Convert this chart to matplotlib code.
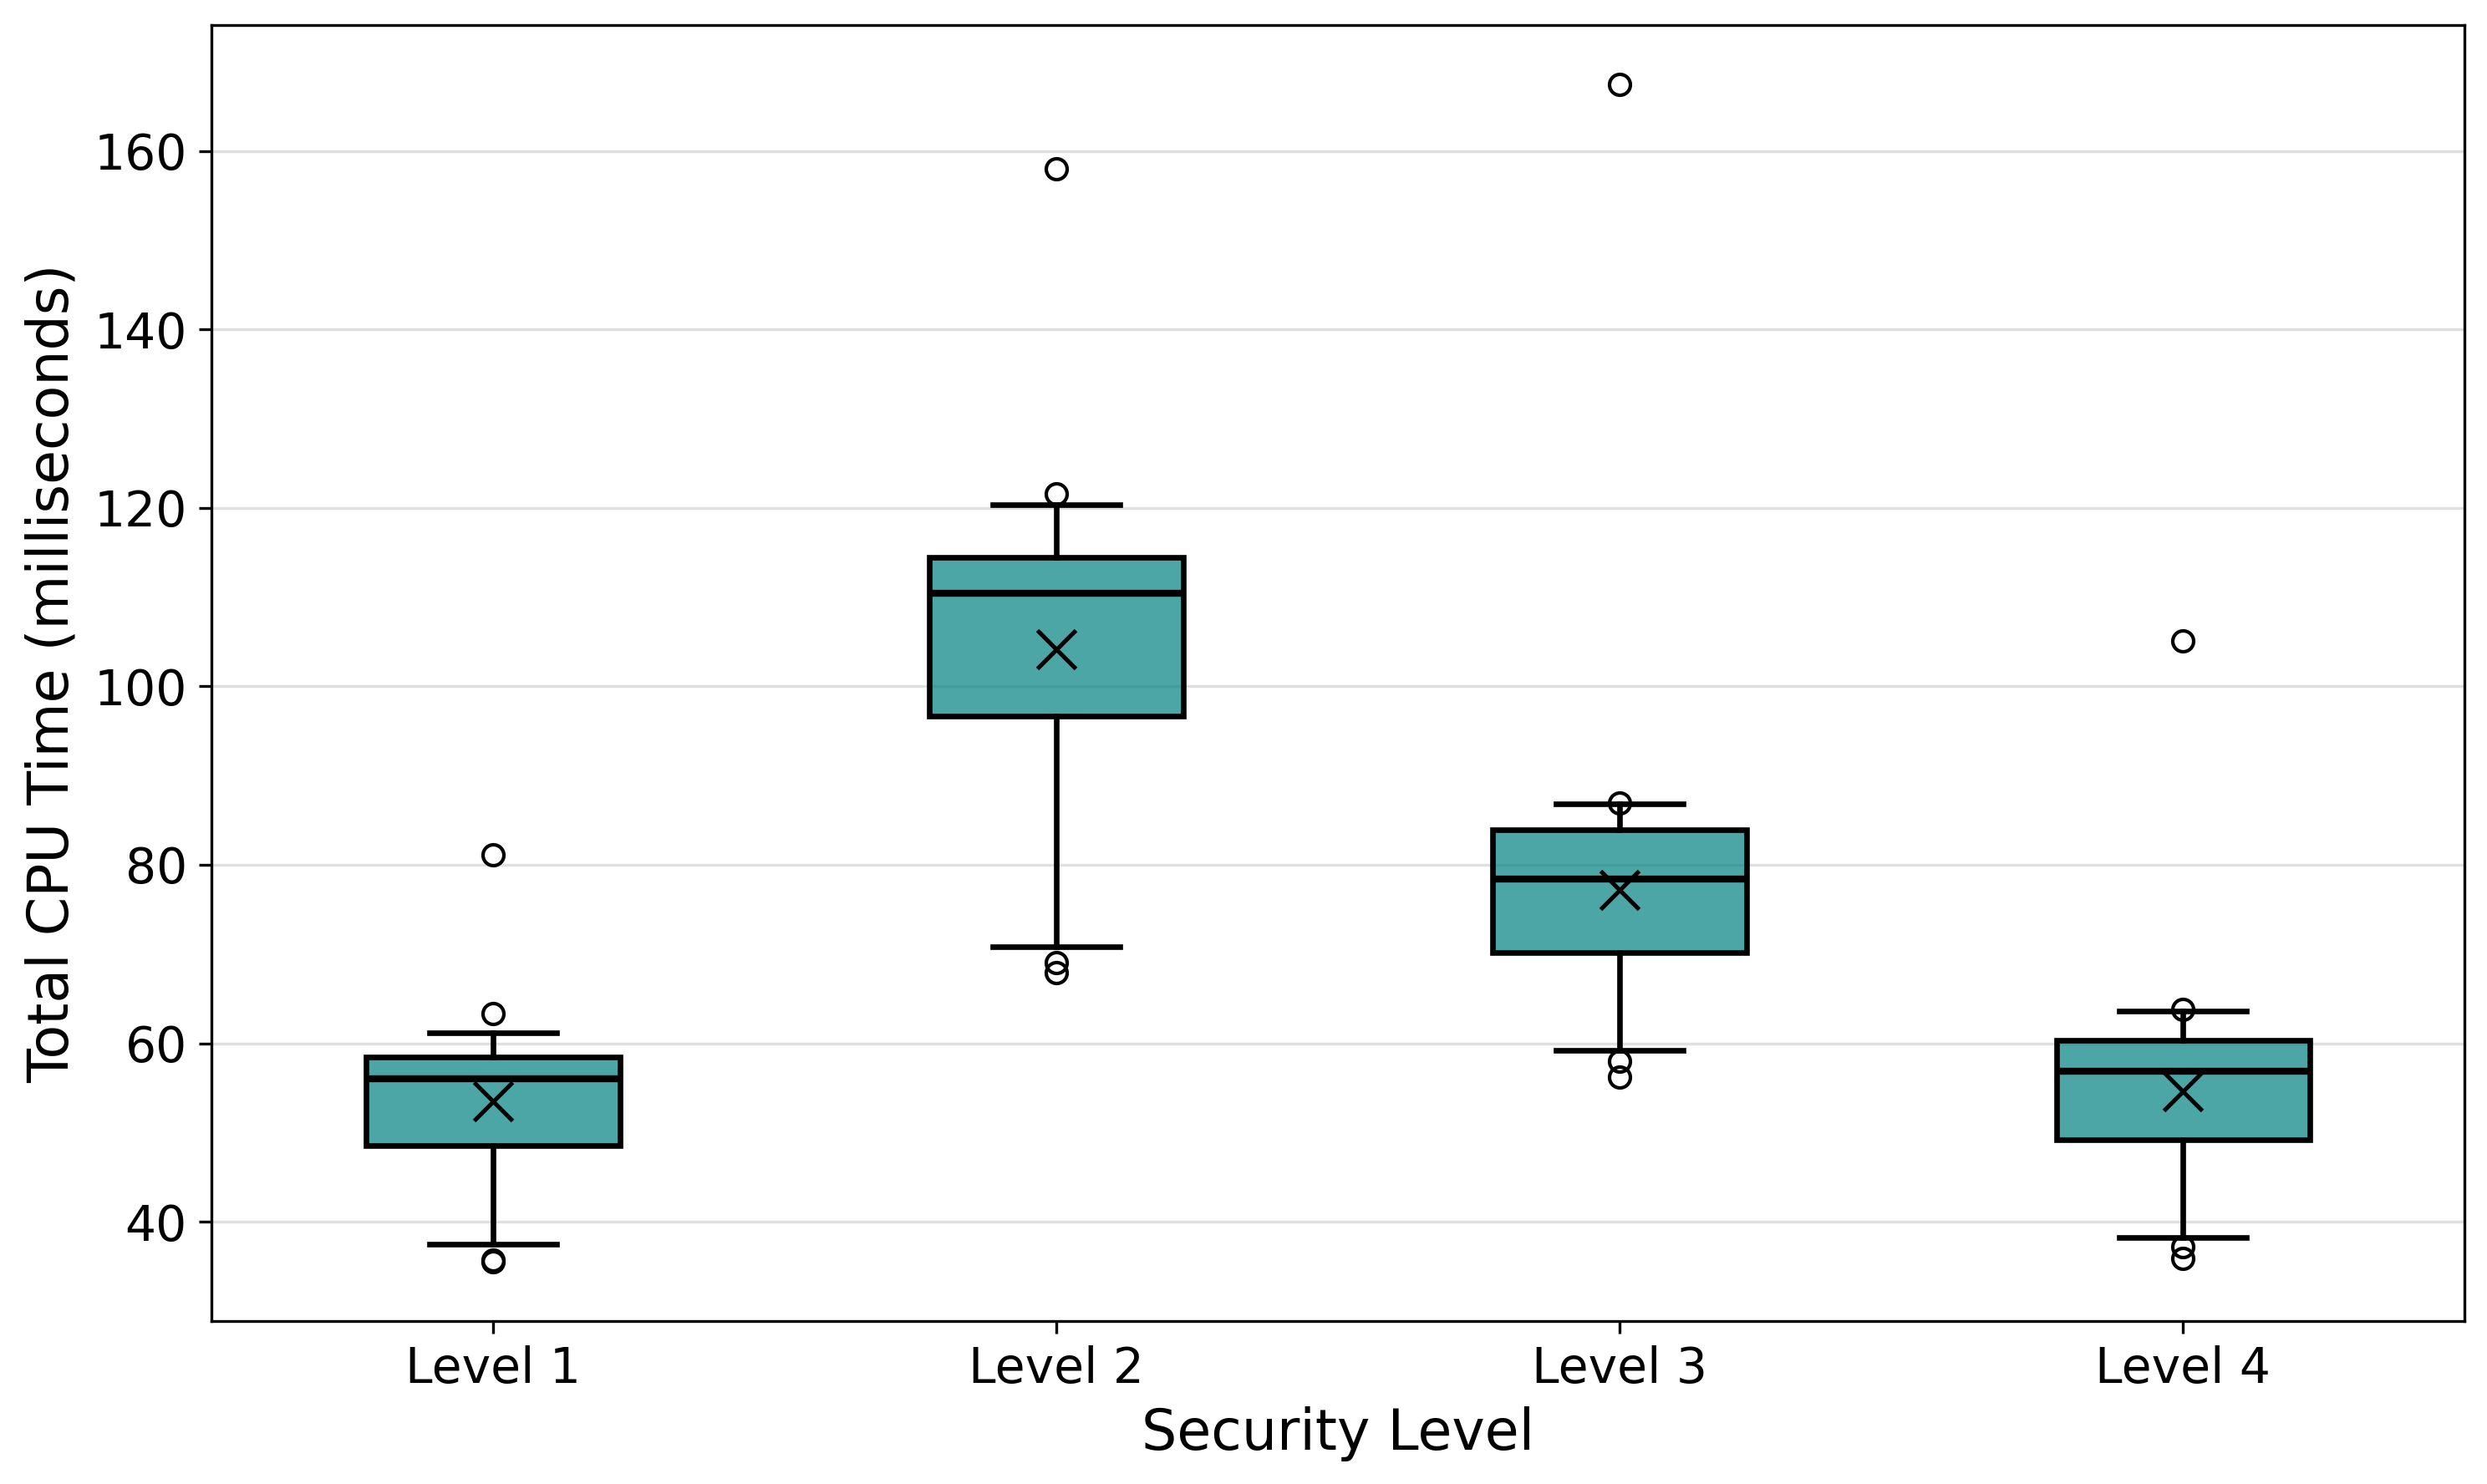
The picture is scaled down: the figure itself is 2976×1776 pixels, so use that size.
import matplotlib
matplotlib.use("Agg")
from matplotlib import pyplot as plt

# values
levels = ["Level 1", "Level 2", "Level 3", "Level 4"]
q1 = [48.5, 96.7, 70.2, 49.2]
medians = [56.0, 110.4, 78.4, 56.9]
q3 = [58.5, 114.5, 83.9, 60.3]
means = [53.5, 104.2, 77.2, 54.6]
whisker_low = [37.5, 70.8, 59.2, 38.2]
whisker_high = [61.2, 120.4, 86.8, 63.6]
outliers = [
    [81.1, 63.3, 35.5, 35.7],
    [158.0, 121.6, 69.0, 67.9],
    [167.5, 86.9, 58.0, 56.2],
    [105.1, 63.8, 37.2, 35.9],
]

stats = []
for i, name in enumerate(levels):
    stats.append({
        "label": name,
        "q1": q1[i],
        "med": medians[i],
        "q3": q3[i],
        "mean": means[i],
        "whislo": whisker_low[i],
        "whishi": whisker_high[i],
        "fliers": outliers[i],
    })

fig, ax = plt.subplots(figsize=(9.92, 5.92), dpi=300)
fig.subplots_adjust(left=0.085, right=0.991, top=0.983, bottom=0.110)

ax.bxp(
    stats,
    widths=0.45,
    showmeans=True,
    patch_artist=True,
    boxprops=dict(facecolor=(0, 0.502, 0.502, 0.7), edgecolor="black", linewidth=1.6),
    medianprops=dict(color="black", linewidth=2.0),
    whiskerprops=dict(color="black", linewidth=1.6),
    capprops=dict(color="black", linewidth=1.6),
    meanprops=dict(marker="x", markeredgecolor="black", markersize=11, markeredgewidth=1.2),
    flierprops=dict(marker="o", markerfacecolor="none", markeredgecolor="black", markersize=6, markeredgewidth=1.0),
)

ax.yaxis.grid(True, color="#e0e0e0", linewidth=0.8)
ax.set_axisbelow(True)
ax.set_xlabel("Security Level", fontsize=16)
ax.set_ylabel("Total CPU Time (milliseconds)", fontsize=16)
ax.tick_params(axis="both", labelsize=14)

fig.savefig("out.png", dpi=300)
